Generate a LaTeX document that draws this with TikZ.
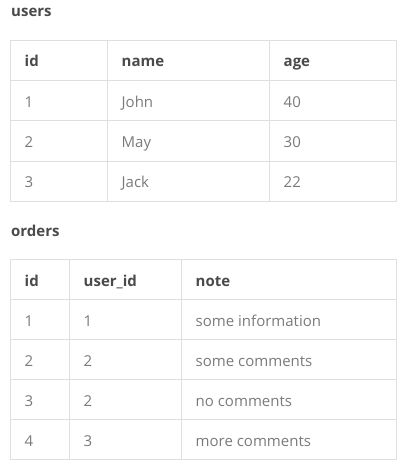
\documentclass[tikz,border=0pt]{standalone}
\usepackage{fontspec}
\setmainfont{Open Sans}
\definecolor{gridc}{HTML}{DFDFDF}
\definecolor{headc}{HTML}{4A4A4A}
\definecolor{bodyc}{HTML}{7A7A7A}
\begin{document}
\begin{tikzpicture}[x=1pt,y=-1pt,
  hd/.style={anchor=base west,inner sep=0pt,font=\fontsize{15}{17}\selectfont\bfseries,text=headc},
  cell/.style={anchor=base west,inner sep=0pt,font=\fontsize{15}{17}\selectfont,text=bodyc},
  gridline/.style={draw=gridc,line width=1pt}]
\useasboundingbox (0,0) rectangle (405,468);
% ---- users table ----
\node[hd] (ut) at (11,17) {users};
\draw[gridline] (10.5,40.5) rectangle (396.5,201.5);
\foreach \y in {80.75,121,161.25} \draw[gridline] (10.5,\y) -- (396.5,\y);
\foreach \x in {107.5,269.5} \draw[gridline] (\x,40.5) -- (\x,201.5);
\node[hd] (uh1) at (24.5,67) {id};
\node[hd] (uh2) at (121.5,67) {name};
\node[hd] (uh3) at (283.5,67) {age};
\node[cell] (u11) at (24.5,107.25) {1};
\node[cell] (u12) at (121.5,107.25) {John};
\node[cell] (u13) at (283.5,107.25) {40};
\node[cell] (u21) at (24.5,147.5) {2};
\node[cell] (u22) at (121.5,147.5) {May};
\node[cell] (u23) at (283.5,147.5) {30};
\node[cell] (u31) at (24.5,187.75) {3};
\node[cell] (u32) at (121.5,187.75) {Jack};
\node[cell] (u33) at (283.5,187.75) {22};
% ---- orders table ----
\node[hd] (ot) at (11,236) {orders};
\draw[gridline] (10.5,259.5) rectangle (396.5,459.5);
\foreach \y in {299.5,339.5,379.5,419.5} \draw[gridline] (10.5,\y) -- (396.5,\y);
\foreach \x in {69.5,181.5} \draw[gridline] (\x,259.5) -- (\x,459.5);
\node[hd] (oh1) at (24.5,286) {id};
\node[hd] (oh2) at (83.5,286) {user\_id};
\node[hd] (oh3) at (195.5,286) {note};
\node[cell] (o11) at (24.5,326) {1};
\node[cell] (o12) at (83.5,326) {1};
\node[cell] (o13) at (195.5,326) {some information};
\node[cell] (o21) at (24.5,366) {2};
\node[cell] (o22) at (83.5,366) {2};
\node[cell] (o23) at (195.5,366) {some comments};
\node[cell] (o31) at (24.5,406) {3};
\node[cell] (o32) at (83.5,406) {2};
\node[cell] (o33) at (195.5,406) {no comments};
\node[cell] (o41) at (24.5,446) {4};
\node[cell] (o42) at (83.5,446) {3};
\node[cell] (o43) at (195.5,446) {more comments};
\end{tikzpicture}
\end{document}
